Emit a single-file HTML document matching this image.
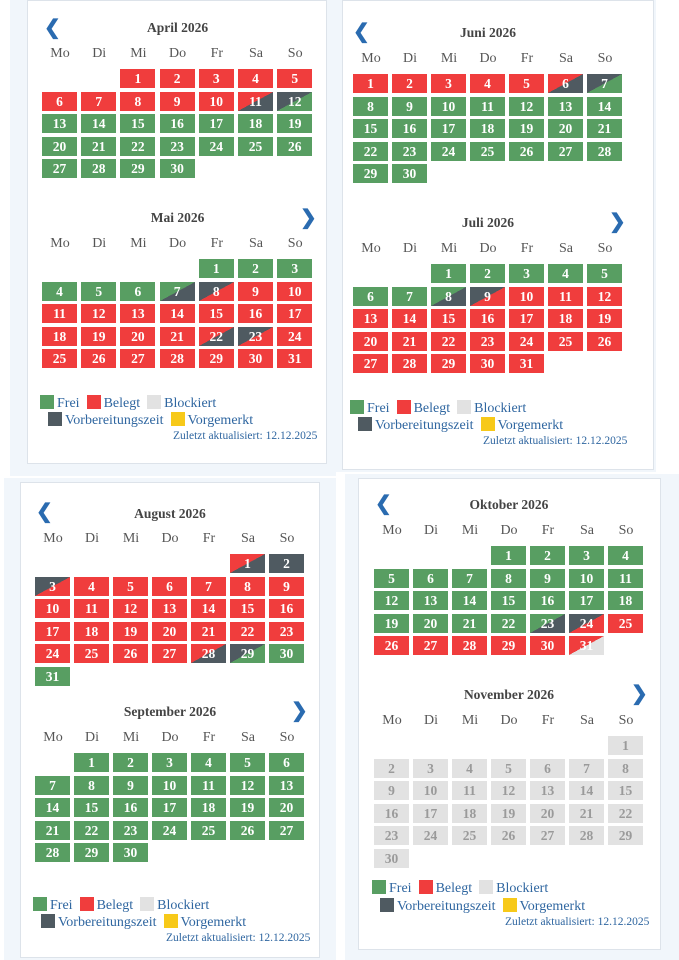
<!DOCTYPE html>
<html><head><meta charset="utf-8">
<style>
body{margin:0;width:679px;height:960px;background:#fff;position:relative;overflow:hidden;font-family:"Liberation Serif",serif;}
.bg{position:absolute;background:#f1f6fb;}
.card{position:absolute;background:#fff;border:1px solid #dde3ea;box-sizing:border-box;}
.t{position:absolute;font-weight:bold;font-size:13.5px;color:#444;text-align:center;width:120px;}
.wd{position:absolute;font-size:14px;color:#555;text-align:center;width:36px;}
.c{position:absolute;width:35px;height:19px;color:#fff;font-weight:bold;font-size:13.5px;text-align:center;line-height:19px;}
.ar{position:absolute;color:#2a6bb0;font-size:20px;font-weight:bold;line-height:20px;}
.lg{position:absolute;font-size:14px;color:#2f66a0;white-space:nowrap;}
.sw{display:inline-block;width:14px;height:14px;vertical-align:-2px;margin-right:3px;}
.up{position:absolute;font-size:11.5px;color:#2f66a0;white-space:nowrap;}
</style></head><body>
<div class="bg" style="left:10px;top:0;width:326px;height:476px"></div>
<div class="card" style="left:27px;top:0;width:300px;height:464px"></div>
<div class="bg" style="left:336px;top:0;width:320px;height:472px"></div>
<div class="card" style="left:342px;top:0;width:312px;height:470px"></div>
<div class="bg" style="left:4px;top:478px;width:332px;height:482px"></div>
<div class="card" style="left:20px;top:482px;width:300px;height:476px"></div>
<div class="bg" style="left:345px;top:474px;width:334px;height:486px"></div>
<div class="card" style="left:358px;top:478px;width:303px;height:472px"></div>
<script>
var G='#589e62',R='#f03d3d',D='#4f5a61',L='#e2e2e2';
function cal(x0,pitch,title,ty,wy,rows,start,n,col,arrow,ax,ay){
 var h='';
 h+='<div class="t" style="left:'+(x0+3*pitch-42)+'px;top:'+(ty-9)+'px">'+title+'</div>';
 if(arrow)h+='<div class="ar" style="left:'+ax+'px;top:'+(ay-10)+'px">'+arrow+'</div>';
 var w=['Mo','Di','Mi','Do','Fr','Sa','So'];
 for(var i=0;i<7;i++)h+='<div class="wd" style="left:'+(x0+i*pitch)+'px;top:'+(wy-9)+'px">'+w[i]+'</div>';
 for(var d=1;d<=n;d++){var p=start+d-1,r=Math.floor(p/7),c=p%7;var cc=col(d);
  var bg=Array.isArray(cc)?'linear-gradient(to bottom right,'+cc[0]+' 50%,'+cc[1]+' 50%)':cc;
  var fc=(cc===L)?'#9a9a9a':'#fff';
  h+='<div class="c" style="left:'+(x0+c*pitch)+'px;top:'+(rows[r]-10)+'px;background:'+bg+';color:'+fc+'">'+d+'</div>';}
 document.write(h);
}
function legend(x,y1,y2,y3,ux){
 document.write('<div class="lg" style="left:'+x+'px;top:'+(y1-9)+'px"><span class="sw" style="background:'+G+'"></span>Frei &nbsp;<span class="sw" style="background:'+R+'"></span>Belegt &nbsp;<span class="sw" style="background:'+L+'"></span>Blockiert</div>'+
 '<div class="lg" style="left:'+(x+8)+'px;top:'+(y2-9)+'px"><span class="sw" style="background:'+D+'"></span>Vorbereitungszeit &nbsp;<span class="sw" style="background:#f7c919"></span>Vorgemerkt</div>'+
 '<div class="up" style="left:'+ux+'px;top:'+(y3-8)+'px">Zuletzt aktualisiert: 12.12.2025</div>');
}
function rw(a){var r=[];for(var i=0;i<6;i++)r.push(a+i*22.6);return r;}
cal(42,39.2,'April 2026',29,55,rw(79),2,30,function(d){return d<11?R:d==11?[R,D]:d==12?[D,G]:G;},'❮',44,28);
cal(42,39.2,'Mai 2026',219,245,rw(269),4,31,function(d){return d<7?G:d==7?[G,D]:d==8?[D,R]:d==22?[R,D]:d==23?[D,R]:R;},'❯',300,218);
legend(40,404,421,438,173);
cal(353,39,'Juni 2026',34,60,rw(84),0,30,function(d){return d<6?R:d==6?[R,D]:d==7?[D,G]:G;},'❮',353,32);
cal(353,39,'Juli 2026',224,250,rw(274),2,31,function(d){return d<8?G:d==8?[G,D]:d==9?[D,R]:R;},'❯',609,222);
legend(350,409,426,443,483);
cal(35,39,'August 2026',515,540,rw(564),5,31,function(d){return d==1?[R,D]:d==2?D:d==3?[D,R]:d<28?R:d==28?[R,D]:d==29?[D,G]:G;},'❮',36,512);
cal(35,39,'September 2026',713,739,rw(763),1,30,function(d){return G;},'❯',291,711);
legend(33,906,923,940,166);
cal(374,39,'Oktober 2026',506,532,rw(556),3,31,function(d){return d<23?G:d==23?[G,D]:d==24?[D,R]:d<31?R:[R,L];},'❮',375,504);
cal(374,39,'November 2026',696,722,rw(746),6,30,function(d){return L;},'❯',631,694);
legend(372,889,907,924,505);
</script>
</body></html>
